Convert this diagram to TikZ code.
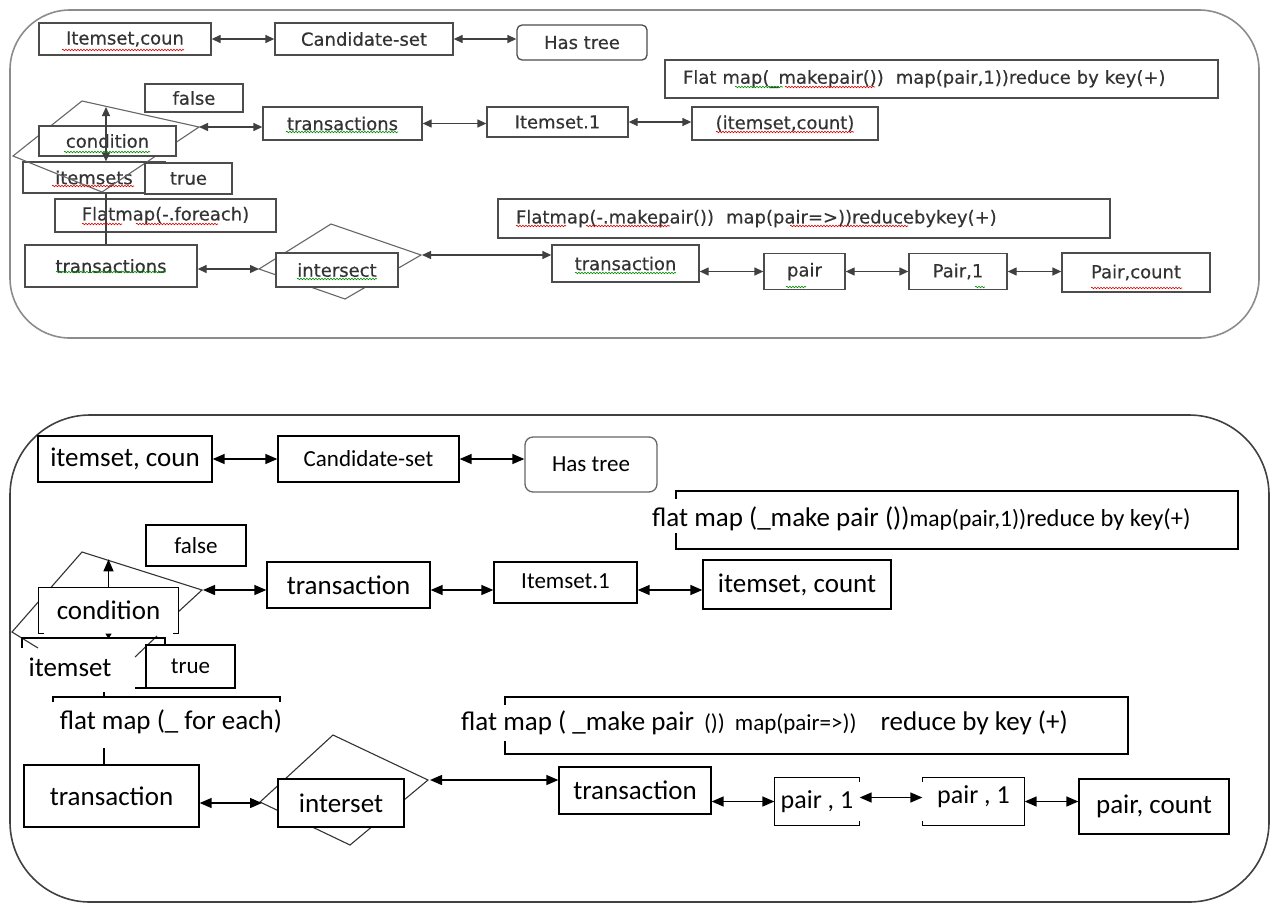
\documentclass[tikz,border=0pt]{standalone}
\usepackage{fontspec}
\setmainfont{Carlito}
\newfontface\dvs{DejaVu Sans}[FakeBold=0.4]
\usepackage{tikz}
\usetikzlibrary{arrows.meta,calc}
\usetikzlibrary{decorations.pathmorphing}
\tikzset{%
  tipA/.tip={Triangle[length=12pt,width=10pt]},
  tipB/.tip={Triangle[length=9pt,width=8pt]},
  %tipC/.tip={Triangle[open]}
}
\def\fsT{\dvs\fontsize{18}{20}\selectfont}
\def\fsL{\fontsize{27}{30}\selectfont}
\def\fsM{\fontsize{23}{26}\selectfont}
\def\fsP{\fontsize{26}{29}\selectfont}
\def\fsS{\fontsize{23.5}{26}\selectfont}
\tikzset{%
  panel/.style={line width=1.6pt},
  boxT/.style={draw=black!70, line width=1.3pt, fill=white, font=\fsT, text=black!80, inner sep=0pt},
  boxB/.style={draw=black, line width=1.3pt, fill=white, font=\fsL, inner sep=0pt},
  txtB/.style={font=\fsL, inner sep=0pt},
  arT/.style={{tipB}-{tipB}, draw=black!75, line width=1.3pt},
  arB/.style={{tipA}-{tipA}, line width=1.4pt},
  lnT/.style={draw=black!75, line width=1.3pt},
  lnB/.style={line width=1.3pt},
  shpT/.style={draw=black!60, line width=1.1pt},
  shpB/.style={draw=black!80, line width=1.1pt},
  spellr/.style={draw=red!85!black, line width=0.6pt, decorate, decoration={snake, amplitude=0.8pt, segment length=3pt}},
  spellg/.style={draw=green!55!black, line width=0.6pt, decorate, decoration={snake, amplitude=0.8pt, segment length=3pt}}
}

\begin{document}
\begin{tikzpicture}[x=1pt, y=-1pt]
\useasboundingbox (0,0) rectangle (1271,903);
% upper picture
\draw [panel, draw=black!45, rounded corners=60pt] (10,10) rectangle (1259,338);
\node [boxT, minimum width=172, minimum height=32] (ic1) at (125,39) {Itemset,coun};
\node [boxT, minimum width=178, minimum height=32] (cs1) at (364,39) {Candidate-set};
\node [boxT, rounded corners=5pt, minimum width=130, minimum height=35] (ht1) at (582,42.5) {Has tree};
\node [boxT, minimum height=38, inner xsep=18pt, text width=517pt, align=left] (fm1) at (941.5,79) {Flat map(\_makepair())\ \ map(pair,1))reduce by key(+)};
\node [boxT, minimum width=98, minimum height=28] (fl1) at (194,98) {false};
\node [boxT, minimum width=159, minimum height=33] (tn2) at (342.5,123.5) {transactions};
\node [boxT, minimum width=141, minimum height=30] (it1) at (557.5,122) {Itemset.1};
\node [boxT, minimum width=186, minimum height=33] (ic2) at (785,123.5) {(itemset,count)};
\node [boxT, minimum width=142, minimum height=31] (is1) at (94,177.5) {itemsets};
\draw [shpT] (82,101) -- (199,127) -- (102,192) -- (13,156) -- cycle;
\node [boxT, minimum width=137, minimum height=30] (cd1) at (107.5,141) {condition};
\node [boxT, minimum width=87, minimum height=31] (tu1) at (188.5,178.5) {true};
\coordinate (d1t) at (106,107);
\coordinate (d1r) at (199,127);
\draw [arT] (d1t) -- (d1t |- is1.north);
\node [boxT, minimum width=221, minimum height=33] (fe1) at (165.5,215.5) {Flatmap(-.foreach)};
\node [boxT, minimum width=172, minimum height=42] (tx1) at (111,266) {transactions};
\draw [lnT] (is1.south -| d1t) -- (d1t |- tx1.north);
\draw [shpT] (331,224) -- (421,255) -- (345,299) -- (259,269) -- cycle;
\node [boxT, minimum width=122, minimum height=34] (is2) at (337,270) {intersect};
\coordinate (d2l) at (259,269);
\coordinate (d2r) at (422,255);
\node [boxT, minimum height=39, inner xsep=18pt, text width=576pt, align=left] (fm2) at (804,218.5) {Flatmap(-.makepair())\ \ map(pair=>))reducebykey(+)};
\node [boxT, minimum width=147, minimum height=37] (tn1) at (625.5,263.5) {transaction};
\node [boxT, minimum width=81, minimum height=36] (pr1) at (804.5,271.5) {pair};
\node [boxT, minimum width=98, minimum height=36] (p11) at (958,271.5) {Pair,1};
\node [boxT, minimum width=148, minimum height=39] (pc1) at (1136,272.5) {Pair,count};
\draw [arT] (ic1) -- (cs1);
\draw [arT] (cs1.east) -- (cs1.east -| ht1.west);
\draw [arT] (d1r) -- (d1r -| tn2.west);
\draw [arT] (tn2.east) -- (tn2.east -| it1.west);
\draw [arT] (it1.east) -- (it1.east -| ic2.west);
\draw [arT] (tx1.east |- d2l) -- (d2l);
\draw [arT] (d2r) -- (d2r -| tn1.west);
\draw [arT] (pr1.west -| tn1.east) -- (pr1.west);
\draw [arT] (pr1) -- (p11);
\draw [arT] (p11.east) -- (p11.east -| pc1.west);
% spelling marks
\draw [spellr] (62,50) -- (184,50);
\draw [spellg] (286,132) -- (398,132);
\draw [spellg] (64,152) -- (150,152);
\draw [spellr] (52,186) -- (134,186);
\draw [spellr] (82,224) -- (122,224);
\draw [spellr] (136,224) -- (218,224);
\draw [spellg] (56,272) -- (166,272);
\draw [spellg] (297,279) -- (377,279);
\draw [spellr] (516,226) -- (566,226);
\draw [spellr] (586,226) -- (670,226);
\draw [spellr] (790,226) -- (908,226);
\draw [spellg] (575,273) -- (676,273);
\draw [spellg] (786,287) -- (806,287);
\draw [spellg] (975,287) -- (985,287);
\draw [spellr] (1091,288) -- (1182,288);
\draw [spellr] (716,132) -- (854,132);
\draw [spellg] (735,87) -- (783,87);
\draw [spellr] (785,87) -- (875,87);
% lower picture
\draw [panel, draw=black!75, rounded corners=80pt] (10,415) rectangle (1269,902);
\node [boxB, minimum width=174, minimum height=46] (ic3) at (125,459) {itemset, coun};
\node [boxB, font=\fsM, minimum width=181, minimum height=46] (cs3) at (368.5,459) {Candidate-set};
\node [boxB, draw=black!60, font=\fsM, rounded corners=8pt, minimum width=132, minimum height=55] (ht3) at (591,464.5) {Has tree};
\draw [arB] (ic3) -- (cs3);
\draw [arB] (cs3.east) -- (cs3.east -| ht3.west);
\node [txtB, anchor=west] (fm3) at (652,519) {flat map (\_make pair ())\fsS map(pair,1))\fontsize{24.5}{27}\selectfont reduce by key(+)};
\draw [lnB] (676,499) -- (676,491) -- (1238,491) -- (1238,549) -- (676,549) -- (676,533);
\node [boxB, font=\fsM, minimum width=100, minimum height=41] (fl3) at (196,545.5) {false};
\draw [shpB] (38,648) -- (12,632) -- (82,552) -- (202,590) -- (177,613);
\draw [shpB] (157,636) -- (135,657);
\node [boxB, draw=none, minimum width=139, minimum height=45] (cd3) at (108.5,610.5) {condition};
\draw [lnB] ([xshift=6pt]cd3.south west) -- (cd3.south west) -- (cd3.north west) -- (cd3.north east) -- (cd3.south east) -- ([xshift=-6pt]cd3.south east);
\draw [line width=1.4pt, -{tipA}] (cd3.north) -- ++(0,-28);
\draw [line width=1.2pt, -{tipA[length=5pt,width=6pt]}] (cd3.south) -- ++(0,5);
\draw [lnB] (22,648) -- (22,638) -- (165,638) -- (165,645);
\node [txtB] (is3) at (70,667) {itemset};
\node [boxB, font=\fsM, minimum width=89, minimum height=43] (tu3) at (190.5,666.5) {true};
\draw [line width=2pt] (135,688) -- (165,688);
\node [boxB, minimum width=163, minimum height=46] (tn4) at (348.5,585) {transaction};
\node [boxB, font=\fsM, minimum width=143, minimum height=41, text depth=2pt] (it3) at (565.5,582.5) {Itemset.1};
\node [boxB, minimum width=188, minimum height=49] (ic4) at (797,584.5) {itemset, count};
\coordinate (d3r) at (203,590);
\draw [arB] (d3r) -- (d3r -| tn4.west);
\draw [arB] (tn4.east |- d3r) -- (d3r -| it3.west);
\draw [arB] (it3.east |- d3r) -- (d3r -| ic4.west);
\draw [lnB] (53,702) -- (53,697) -- (280,697) -- (280,702);
\draw [lnB] (104,697) -- (104,692);
\node [txtB] (fe3) at (171,722) {flat map (\_ for each)};
\node [boxB, minimum width=175, minimum height=62] (tx3) at (111.5,796) {transaction};
\coordinate (fx) at (104,748);
\draw [lnB] (fx) -- (fx |- tx3.north);
\draw [shpB] (333,735) -- (428,780) -- (350,845) -- (260,802) -- cycle;
\node [boxB, minimum width=126, minimum height=48] (is4) at (341,803) {interset};
\coordinate (d4l) at (262,803);
\coordinate (d4r) at (430,780);
\node [txtB, anchor=west] (fm4) at (461,723) {flat map ( \_make pair\hspace{10pt}{\fsM())}\hspace{10pt}{\fsM map(pair=>))}\hspace{24pt}reduce by key (+)};
\draw [lnB] (505,705) -- (505,697) -- (1128,697) -- (1128,754) -- (505,754) -- (505,741);
\node [boxB, minimum width=152, minimum height=47] (tn3) at (635,790.5) {transaction};
\node [boxB, draw=none, font=\fsP, minimum width=84, minimum height=47] (pa1) at (817,801.5) {pair , 1};
\draw [lnB] ([yshift=-5pt]pa1.north east) -- (pa1.north east) -- (pa1.north west) -- (pa1.south west) -- (pa1.south east) -- ([yshift=5pt]pa1.south east);
\node [boxB, draw=none, font=\fsP, minimum width=101, minimum height=47, text depth=14pt] (pa2) at (973.5,801.5) {pair , 1};
\draw [lnB] ([yshift=-5pt]pa2.north west) -- (pa2.north west) -- (pa2.north east) -- (pa2.south east) -- (pa2.south west) -- ([yshift=5pt]pa2.south west);
\node [boxB, minimum width=150, minimum height=55] (pc3) at (1154,806.5) {pair, count};
\draw [arB] (tx3.east |- d4l) -- (d4l);
\draw [arB] (d4r) -- (d4r -| tn3.west);
\draw [arB] (pa1.west -| tn3.east) -- (pa1.west);
\draw [arB] ([yshift=4pt]pa1.east) -- ([yshift=4pt]pa2.west);
\draw [arB] (pa2.east) -- (pa2.east -| pc3.west);
\end{tikzpicture}
\end{document}
